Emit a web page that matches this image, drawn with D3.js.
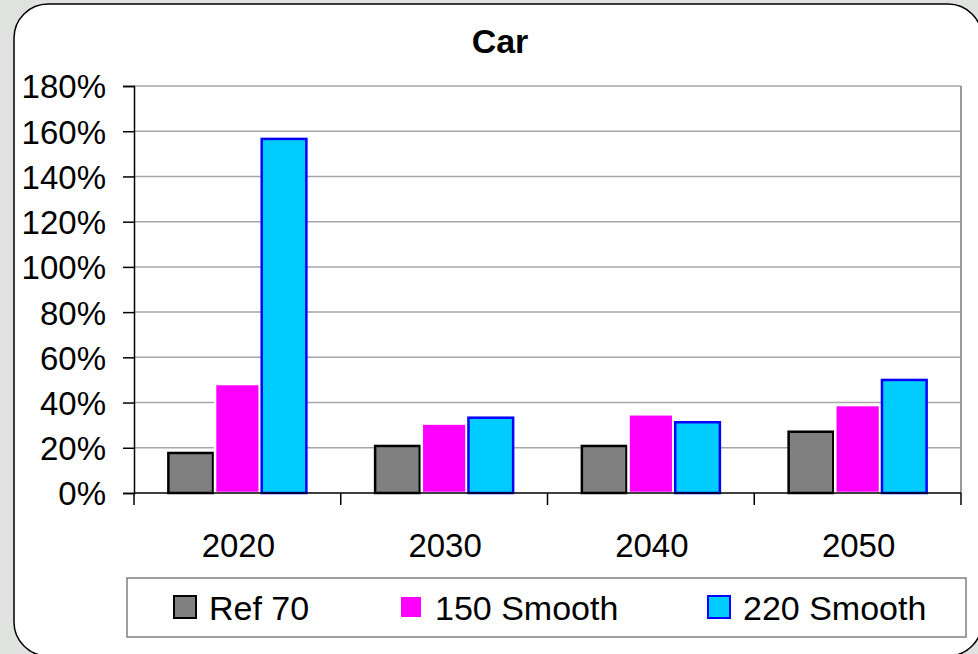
<!DOCTYPE html>
<html>
<head>
<meta charset="utf-8">
<script src="https://cdn.jsdelivr.net/npm/d3@7"></script>
<style>
  html, body { margin: 0; padding: 0; background: #dfe2df; }
  svg { display: block; font-family: "Liberation Sans", Arial, sans-serif; }
</style>
</head>
<body>
<svg id="chart" width="978" height="654"></svg>
<script>
// Chart data
const years = ["2020", "2030", "2040", "2050"];
const seriesNames = ["Ref 70", "150 Smooth", "220 Smooth"];
const ref70 = [0.177, 0.208, 0.208, 0.271];
const smooth150 = [0.482, 0.307, 0.348, 0.389];
const smooth220 = [1.566, 0.333, 0.313, 0.500];
const yTicks = [0, 0.2, 0.4, 0.6, 0.8, 1.0, 1.2, 1.4, 1.6, 1.8];

const seriesValues = [ref70, smooth150, smooth220];
const fills = ["#808080", "#ff00ff", "#00ccff"];
const strokes = ["#000000", "#ffffff", "#0000ff"];

const svg = d3.select("#chart");

// Rounded outer panel
svg.append("rect")
  .attr("x", 14).attr("y", 4)
  .attr("width", 968).attr("height", 652)
  .attr("rx", 34).attr("ry", 34)
  .attr("fill", "#ffffff").attr("stroke", "#000").attr("stroke-width", 1.5);

const plot = { left: 134, right: 961, top: 86, bottom: 493 };

const x = d3.scaleBand().domain(years).range([plot.left, plot.right]).padding(0);
const xs = d3.scaleBand().domain(seriesNames).range([0, x.bandwidth()])
  .paddingInner(0).paddingOuter(0.715);
const y = d3.scaleLinear().domain([0, 1.8]).range([plot.bottom, plot.top]);

// Gridlines
svg.append("g")
  .selectAll("line")
  .data(yTicks.filter(d => d > 0))
  .join("line")
  .attr("x1", plot.left).attr("x2", plot.right)
  .attr("y1", d => y(d)).attr("y2", d => y(d))
  .attr("stroke", "#a6a6a6").attr("stroke-width", 1.5);

// Right border of the plot area
svg.append("line")
  .attr("x1", plot.right).attr("x2", plot.right)
  .attr("y1", plot.top).attr("y2", plot.bottom)
  .attr("stroke", "#999").attr("stroke-width", 2);

// Bars
const groups = svg.append("g")
  .selectAll("g")
  .data(years)
  .join("g")
  .attr("transform", d => `translate(${x(d)},0)`);

groups.selectAll("rect")
  .data((yr, i) => seriesNames.map((s, k) => ({ s, k, v: seriesValues[k][i] })))
  .join("rect")
  .attr("x", d => xs(d.s) + 1)
  .attr("width", xs.bandwidth() - 2)
  .attr("y", d => y(d.v))
  .attr("height", d => y(0) - y(d.v))
  .attr("fill", d => fills[d.k])
  .attr("stroke", d => strokes[d.k])
  .attr("stroke-width", 2.5);

// Y axis
const yAxis = d3.axisLeft(y)
  .tickValues(yTicks)
  .tickFormat(d3.format(".0%"))
  .tickSize(11)
  .tickPadding(17);
const gy = svg.append("g")
  .attr("transform", `translate(${plot.left},0)`)
  .call(yAxis);
gy.select(".domain").attr("stroke", "#000").attr("stroke-width", 1.5);
gy.selectAll(".tick line").attr("stroke", "#000").attr("stroke-width", 1.5);
gy.selectAll(".tick text")
  .attr("fill", "#000")
  .style("font-size", "33px")
  .attr("dy", "0.36em");

// X axis: separators between categories and centred labels
const gx = svg.append("g").attr("transform", `translate(0,${plot.bottom})`);
gx.append("line")
  .attr("x1", plot.left).attr("x2", plot.right)
  .attr("y1", 0).attr("y2", 0)
  .attr("stroke", "#000").attr("stroke-width", 1.5);
const edges = years.map(d => x(d)).concat([plot.right]);
gx.selectAll("line.sep")
  .data(edges)
  .join("line")
  .attr("class", "sep")
  .attr("x1", d => d).attr("x2", d => d)
  .attr("y1", 0).attr("y2", 12)
  .attr("stroke", "#000").attr("stroke-width", 1.5);
gx.selectAll("text")
  .data(years)
  .join("text")
  .attr("x", d => x(d) + x.bandwidth() / 2 + 1)
  .attr("y", 64)
  .attr("text-anchor", "middle")
  .style("font-size", "33px")
  .text(d => d);

// Title
svg.append("text")
  .attr("x", 500).attr("y", 53)
  .attr("text-anchor", "middle")
  .style("font-size", "34px")
  .style("font-weight", "bold")
  .text("Car");

// Legend
const legend = svg.append("g");
legend.append("rect")
  .attr("x", 127).attr("y", 578)
  .attr("width", 839).attr("height", 59)
  .attr("fill", "#fff").attr("stroke", "#808080").attr("stroke-width", 1.5);
const legendX = [174, 400, 708];
const items = legend.selectAll("g.item")
  .data(seriesNames)
  .join("g")
  .attr("class", "item")
  .attr("transform", (d, i) => `translate(${legendX[i]},596)`);
items.append("rect")
  .attr("width", 22).attr("height", 22)
  .attr("fill", (d, i) => fills[i])
  .attr("stroke", (d, i) => strokes[i])
  .attr("stroke-width", 2);
items.append("text")
  .attr("x", 35).attr("y", 24)
  .style("font-size", "34px")
  .text(d => d);
</script>
</body>
</html>
